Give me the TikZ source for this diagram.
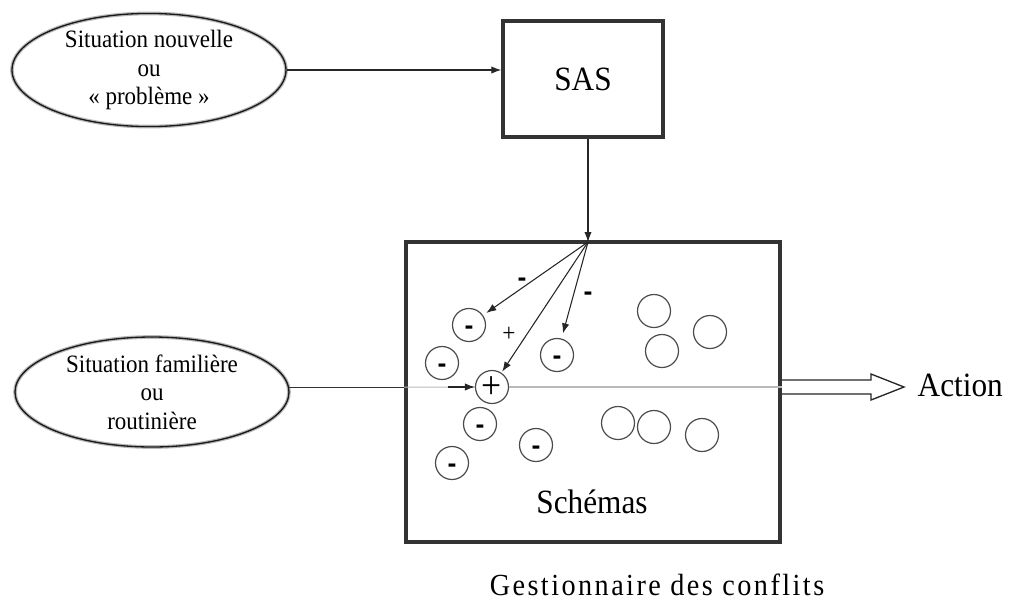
\documentclass[tikz,border=0pt]{standalone}
\usepackage{fontspec}
\setmainfont[FakeStretch=0.92]{Liberation Serif}
\newfontfamily\gestfont[FakeStretch=0.92,LetterSpace=8]{Liberation Serif}
\newfontfamily\minusfont{Liberation Sans}
\usetikzlibrary{shapes.geometric,arrows.meta}
\begin{document}
\begin{tikzpicture}[x=0.75pt,y=-0.75pt,
  oval/.style={ellipse, draw=black!90, line width=1pt,
    preaction={draw=gray!55, line width=2.8pt},
    minimum width=205.5pt, minimum height=82.5pt, inner sep=0pt, align=center,
    font=\fontsize{18.75}{21.5}\selectfont},
  boxstyle/.style={draw=black!80, line width=2.6pt, inner sep=0pt},
  blob/.style={circle, draw=black!70, line width=0.9pt, minimum size=24.75pt, inner sep=0pt},
  arr/.style={-{Latex[length=7.5pt,width=5.5pt]}, line width=0.8pt, black!85},
  minus/.style={font=\minusfont\bfseries\fontsize{20}{20}\selectfont, text height=13.5pt, text depth=0pt},
  big/.style={font=\fontsize{25.5}{30}\selectfont}]
\useasboundingbox (0,0) rectangle (1011,601);

% ovals
\node[oval] (e1) at (149,70) {Situation nouvelle\\ou\\« problème »};
\node[oval] (e2) at (152,392) {Situation familière\\ou\\routinière};

% boxes
\node[boxstyle, minimum width=120pt, minimum height=87pt, big] (sas) at (583,79) {SAS};
\node[boxstyle, minimum width=280.5pt, minimum height=225pt] (sch) at (593,392) {};
\node[big] (schl) at (592,502) {Schémas};
\node[big, anchor=west] (act) at (913,385) {Action};
\node[font=\gestfont\fontsize{23}{28}\selectfont] (gest) at (657,585) {Gestionnaire des conflits};

% circles
\node[blob, minus] (m1) at (469,325) {-};
\node[blob, minus] (m2) at (442,363) {-};
\node[blob, minus] (m3) at (557,355) {-};
\node[blob, minus] (m4) at (480,424) {-};
\node[blob, minus] (m5) at (452,463) {-};
\node[blob, minus] (m6) at (536,445) {-};
\node[blob, font=\fontsize{29}{29}\selectfont, text height=16.5pt, text depth=0pt] (pl) at (492,387) {+};
\node[blob] (o1) at (654,311) {};
\node[blob] (o2) at (662,351) {};
\node[blob] (o3) at (710,332) {};
\node[blob] (o4) at (618,423) {};
\node[blob] (o5) at (654,427) {};
\node[blob] (o6) at (702,435) {};

% labels on arrows
\node[minus] (l1) at (522,277) {-};
\node[minus] (l2) at (588,291) {-};
\node[font=\fontsize{19}{19}\selectfont, text height=11pt, text depth=0pt] (l3) at (509,334) {+};

% connectors
\coordinate (P) at (588,242);
\draw[arr] (e1.east) -- (e1.east -| sas.west);
\draw[arr] (sas.south -| P) -- (P);
\draw[arr, shorten >=3pt] (P) -- (m1);
\draw[arr, shorten >=1pt] (P) -- (pl);
\draw[arr, shorten >=4pt] (P) -- (m3);

\draw[line width=1pt, black!80] (e2.2) -- (e2.2 -| sch.west);
\draw[gray!55, line width=0.8pt] (e2.2 -| sch.west) -- (pl.west);
\draw[gray!55, line width=0.8pt] (pl.east) -- (pl -| sch.east);
\coordinate (a0) at (448,387);
\draw[arr] (a0) -- (pl.west);

% block arrow to Action
\draw[line width=1pt, black!85, fill=white]
  (782,380) -- (871,380) -- (871,374) -- (904,387) -- (871,400) -- (871,394) -- (782,394);
\end{tikzpicture}
\end{document}
